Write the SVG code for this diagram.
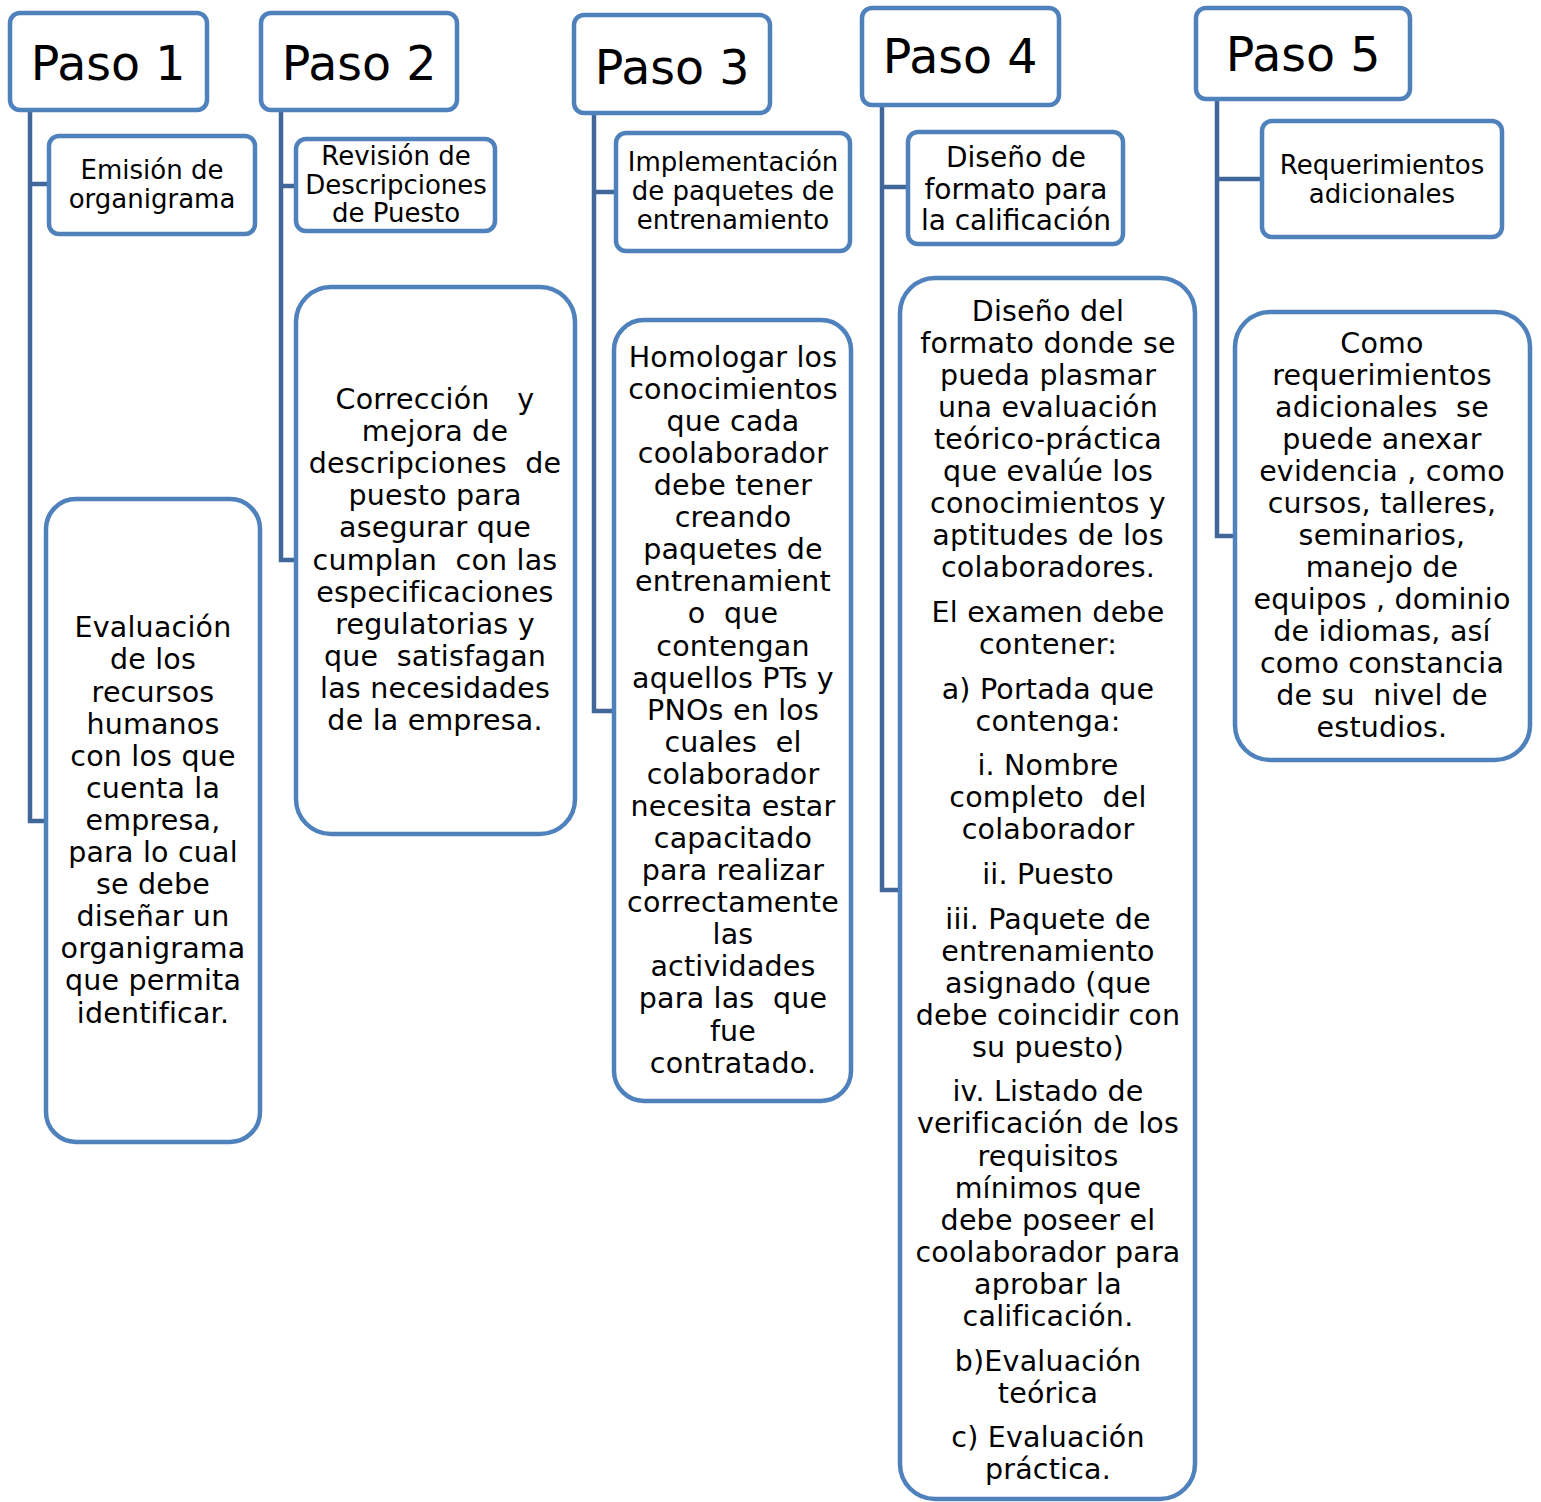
<svg xmlns="http://www.w3.org/2000/svg" width="1541" height="1502" viewBox="0 0 1541 1502">
<style>
.box{fill:#fff;stroke:#4F81BD;stroke-width:4.5}
.con{fill:none;stroke:#41669A;stroke-width:4.5}
text{font-family:"DejaVu Sans","Verdana",sans-serif;fill:#000;text-anchor:middle;white-space:pre}
.h{font-size:47.5px}
.s{font-size:26px}
.m{font-size:28px}
.b{font-size:28.5px;letter-spacing:0.2px}
</style>
<rect width="1541" height="1502" fill="#fff"/>
<g id="connectors">
<path class="con" d="M30,110 V821 H46 M30,184 H49"/>
<path class="con" d="M281,110 V560 H296 M281,186 H296"/>
<path class="con" d="M594,113 V711 H614 M594,192 H616"/>
<path class="con" d="M882,105 V890 H900 M882,187 H908"/>
<path class="con" d="M1217,99 V536 H1235 M1217,179 H1262"/>
</g>
<g id="paso1">
<rect class="box" x="10" y="13" width="197" height="97" rx="10"/>
<text class="h" x="108" y="80">Paso 1</text>
</g>
<g id="paso1-title">
<rect class="box" x="49" y="136" width="206" height="98" rx="10"/>
<text class="s" x="152" y="179">Emisión de</text>
<text class="s" x="152" y="208">organigrama</text>
</g>
<g id="paso1-detail">
<rect class="box" x="46" y="499" width="214" height="643" rx="30"/>
<text class="b" x="153"><tspan x="153" y="637">Evaluación</tspan><tspan x="153" y="669">de los</tspan><tspan x="153" y="702">recursos</tspan><tspan x="153" y="734">humanos</tspan><tspan x="153" y="766">con los que</tspan><tspan x="153" y="798">cuenta la</tspan><tspan x="153" y="830">empresa,</tspan><tspan x="153" y="862">para lo cual</tspan><tspan x="153" y="894">se debe</tspan><tspan x="153" y="926">diseñar un</tspan><tspan x="153" y="958">organigrama</tspan><tspan x="153" y="990">que permita</tspan><tspan x="153" y="1023">identificar.</tspan></text>
</g>
<g id="paso2">
<rect class="box" x="261" y="13" width="196" height="97" rx="10"/>
<text class="h" x="359" y="80">Paso 2</text>
</g>
<g id="paso2-title">
<rect class="box" x="296" y="139" width="199" height="92" rx="10"/>
<text class="s" x="396" y="165">Revisión de</text>
<text class="s" x="396" y="194">Descripciones</text>
<text class="s" x="396" y="222">de Puesto</text>
</g>
<g id="paso2-detail">
<rect class="box" x="296" y="287" width="279" height="547" rx="35"/>
<text class="b"><tspan x="435" y="409">Corrección   y</tspan><tspan x="435" y="441">mejora de</tspan><tspan x="435" y="473">descripciones  de</tspan><tspan x="435" y="505">puesto para</tspan><tspan x="435" y="537">asegurar que</tspan><tspan x="435" y="570">cumplan  con las</tspan><tspan x="435" y="602">especificaciones</tspan><tspan x="435" y="634">regulatorias y</tspan><tspan x="435" y="666">que  satisfagan</tspan><tspan x="435" y="698">las necesidades</tspan><tspan x="435" y="730">de la empresa.</tspan></text>
</g>
<g id="paso3">
<rect class="box" x="574" y="15" width="196" height="98" rx="10"/>
<text class="h" x="672" y="84">Paso 3</text>
</g>
<g id="paso3-title">
<rect class="box" x="616" y="133" width="234" height="118" rx="10"/>
<text class="s" x="733" y="171">Implementación</text>
<text class="s" x="733" y="200">de paquetes de</text>
<text class="s" x="733" y="229">entrenamiento</text>
</g>
<g id="paso3-detail">
<rect class="box" x="614" y="320" width="237" height="781" rx="30"/>
<text class="b"><tspan x="733" y="367">Homologar los</tspan><tspan x="733" y="399">conocimientos</tspan><tspan x="733" y="431">que cada</tspan><tspan x="733" y="463">coolaborador</tspan><tspan x="733" y="495">debe tener</tspan><tspan x="733" y="527">creando</tspan><tspan x="733" y="559">paquetes de</tspan><tspan x="733" y="591">entrenamient</tspan><tspan x="733" y="623">o  que</tspan><tspan x="733" y="656">contengan</tspan><tspan x="733" y="688">aquellos PTs y</tspan><tspan x="733" y="720">PNOs en los</tspan><tspan x="733" y="752">cuales  el</tspan><tspan x="733" y="784">colaborador</tspan><tspan x="733" y="816">necesita estar</tspan><tspan x="733" y="848">capacitado</tspan><tspan x="733" y="880">para realizar</tspan><tspan x="733" y="912">correctamente</tspan><tspan x="733" y="944">las</tspan><tspan x="733" y="976">actividades</tspan><tspan x="733" y="1008">para las  que</tspan><tspan x="733" y="1041">fue</tspan><tspan x="733" y="1073">contratado.</tspan></text>
</g>
<g id="paso4">
<rect class="box" x="862" y="8" width="197" height="97" rx="10"/>
<text class="h" x="960" y="73">Paso 4</text>
</g>
<g id="paso4-title">
<rect class="box" x="908" y="132" width="215" height="112" rx="10"/>
<text class="m" x="1016" y="167">Diseño de</text>
<text class="m" x="1016" y="199">formato para</text>
<text class="m" x="1016" y="230">la calificación</text>
</g>
<g id="paso4-detail">
<rect class="box" x="900" y="278" width="295" height="1221" rx="35"/>
<text class="b"><tspan x="1048" y="321">Diseño del</tspan><tspan x="1048" y="353">formato donde se</tspan><tspan x="1048" y="385">pueda plasmar</tspan><tspan x="1048" y="417">una evaluación</tspan><tspan x="1048" y="449">teórico-práctica</tspan><tspan x="1048" y="481">que evalúe los</tspan><tspan x="1048" y="513">conocimientos y</tspan><tspan x="1048" y="545">aptitudes de los</tspan><tspan x="1048" y="577">colaboradores.</tspan><tspan x="1048" y="622">El examen debe</tspan><tspan x="1048" y="654">contener:</tspan><tspan x="1048" y="699">a) Portada que</tspan><tspan x="1048" y="731">contenga:</tspan><tspan x="1048" y="775">i. Nombre</tspan><tspan x="1048" y="807">completo  del</tspan><tspan x="1048" y="839">colaborador</tspan><tspan x="1048" y="884">ii. Puesto</tspan><tspan x="1048" y="929">iii. Paquete de</tspan><tspan x="1048" y="961">entrenamiento</tspan><tspan x="1048" y="993">asignado (que</tspan><tspan x="1048" y="1025">debe coincidir con</tspan><tspan x="1048" y="1057">su puesto)</tspan><tspan x="1048" y="1101">iv. Listado de</tspan><tspan x="1048" y="1133">verificación de los</tspan><tspan x="1048" y="1166">requisitos</tspan><tspan x="1048" y="1198">mínimos que</tspan><tspan x="1048" y="1230">debe poseer el</tspan><tspan x="1048" y="1262">coolaborador para</tspan><tspan x="1048" y="1294">aprobar la</tspan><tspan x="1048" y="1326">calificación.</tspan><tspan x="1048" y="1371">b)Evaluación</tspan><tspan x="1048" y="1403">teórica</tspan><tspan x="1048" y="1447">c) Evaluación</tspan><tspan x="1048" y="1479">práctica.</tspan></text>
</g>
<g id="paso5">
<rect class="box" x="1196" y="8" width="214" height="91" rx="10"/>
<text class="h" x="1303" y="71">Paso 5</text>
</g>
<g id="paso5-title">
<rect class="box" x="1262" y="121" width="240" height="116" rx="10"/>
<text class="s" x="1382" y="174">Requerimientos</text>
<text class="s" x="1382" y="203">adicionales</text>
</g>
<g id="paso5-detail">
<rect class="box" x="1235" y="312" width="295" height="448" rx="35"/>
<text class="b"><tspan x="1382" y="353">Como</tspan><tspan x="1382" y="385">requerimientos</tspan><tspan x="1382" y="417">adicionales  se</tspan><tspan x="1382" y="449">puede anexar</tspan><tspan x="1382" y="481">evidencia , como</tspan><tspan x="1382" y="513">cursos, talleres,</tspan><tspan x="1382" y="545">seminarios,</tspan><tspan x="1382" y="577">manejo de</tspan><tspan x="1382" y="609">equipos , dominio</tspan><tspan x="1382" y="641">de idiomas, así</tspan><tspan x="1382" y="673">como constancia</tspan><tspan x="1382" y="705">de su  nivel de</tspan><tspan x="1382" y="737">estudios.</tspan></text>
</g>
</svg>
